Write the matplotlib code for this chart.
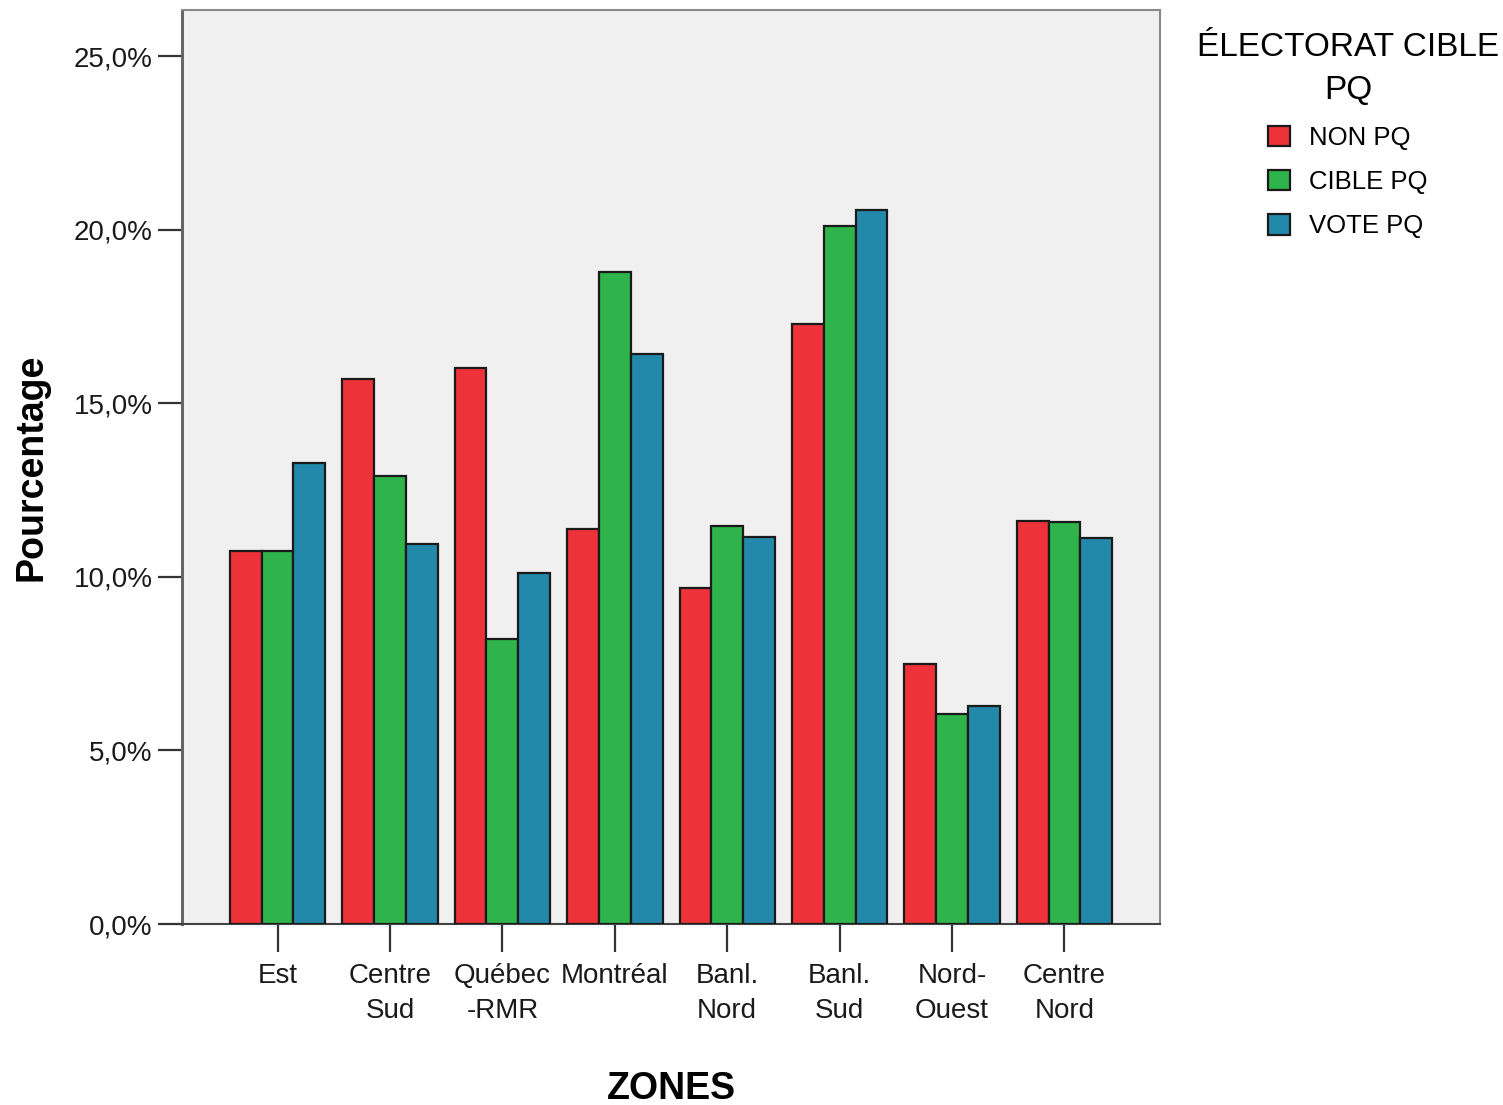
import numpy as np
import matplotlib
matplotlib.use("Agg")
from matplotlib import pyplot as plt
from matplotlib.ticker import FuncFormatter

plt.rcParams['font.family'] = ['Liberation Sans', 'DejaVu Sans']

# Données (%)
zones = ["Est", "Centre\nSud", "Québec\n-RMR", "Montréal", "Banl.\nNord",
         "Banl.\nSud", "Nord-\nOuest", "Centre\nNord"]
non_pq = [10.74, 15.70, 16.01, 11.38, 9.68, 17.28, 7.49, 11.61]
cible_pq = [10.74, 12.90, 8.21, 18.78, 11.46, 20.10, 6.05, 11.58]
vote_pq = [13.28, 10.94, 10.11, 16.42, 11.15, 20.56, 6.28, 11.12]
series = {"NON PQ": non_pq, "CIBLE PQ": cible_pq, "VOTE PQ": vote_pq}
colors = ["#EE323A", "#2EB44A", "#2389AA"]

fig = plt.figure(figsize=(15.03, 11.05), dpi=100)
ax = fig.add_axes([0.1211, 0.1638, 0.6507, 0.8272])
ax.set_facecolor("#F0F0F0")

x = np.arange(len(zones))
w = 0.283
for i, ((name, vals), c) in enumerate(zip(series.items(), colors)):
    ax.bar(x + (i - 1) * w, vals, width=w, color=c, edgecolor="#1a1a1a",
           linewidth=1.6, label=name, zorder=3)

ax.set_xlim(-0.85, 7.85)
ax.set_ylim(0, 26.33)
ax.set_yticks([0, 5, 10, 15, 20, 25])
ax.yaxis.set_major_formatter(FuncFormatter(lambda v, p: f"{v:.1f}%".replace(".", ",")))
ax.set_xticks(x)
ax.set_xticklabels(zones, linespacing=1.45)

for s in ax.spines.values():
    s.set_color("#8a8a8a")
    s.set_linewidth(1.5)
ax.spines["left"].set_color("#666666")
ax.spines["left"].set_linewidth(2.2)
ax.spines["bottom"].set_color("#444444")

ax.tick_params(axis="y", length=17, width=1.6, color="#333333", pad=4,
               labelsize=20, labelcolor="#1a1a1a")
ax.tick_params(axis="x", length=20, width=1.6, color="#333333", pad=8,
               labelsize=20, labelcolor="#1a1a1a")

ax.set_ylabel("Pourcentage", fontsize=27, fontweight="bold")
ax.yaxis.set_label_coords(-0.136, 0.5)
ax.set_xlabel("ZONES", fontsize=27, fontweight="bold", va="center")
ax.xaxis.set_label_coords(0.5, -0.181)

handles, labels = ax.get_legend_handles_labels()
leg = fig.legend(handles, labels, title="ÉLECTORAT CIBLE\nPQ",
                 loc="upper center", bbox_to_anchor=(0.897, 0.983),
                 frameon=False, fontsize=18.5, title_fontsize=24,
                 handlelength=0.85, handleheight=0.85, handletextpad=0.75,
                 labelspacing=0.78, borderpad=0)
leg.get_title().set_multialignment("center")
leg.get_title().set_linespacing(1.5)

fig.savefig("out.png", dpi=100)
